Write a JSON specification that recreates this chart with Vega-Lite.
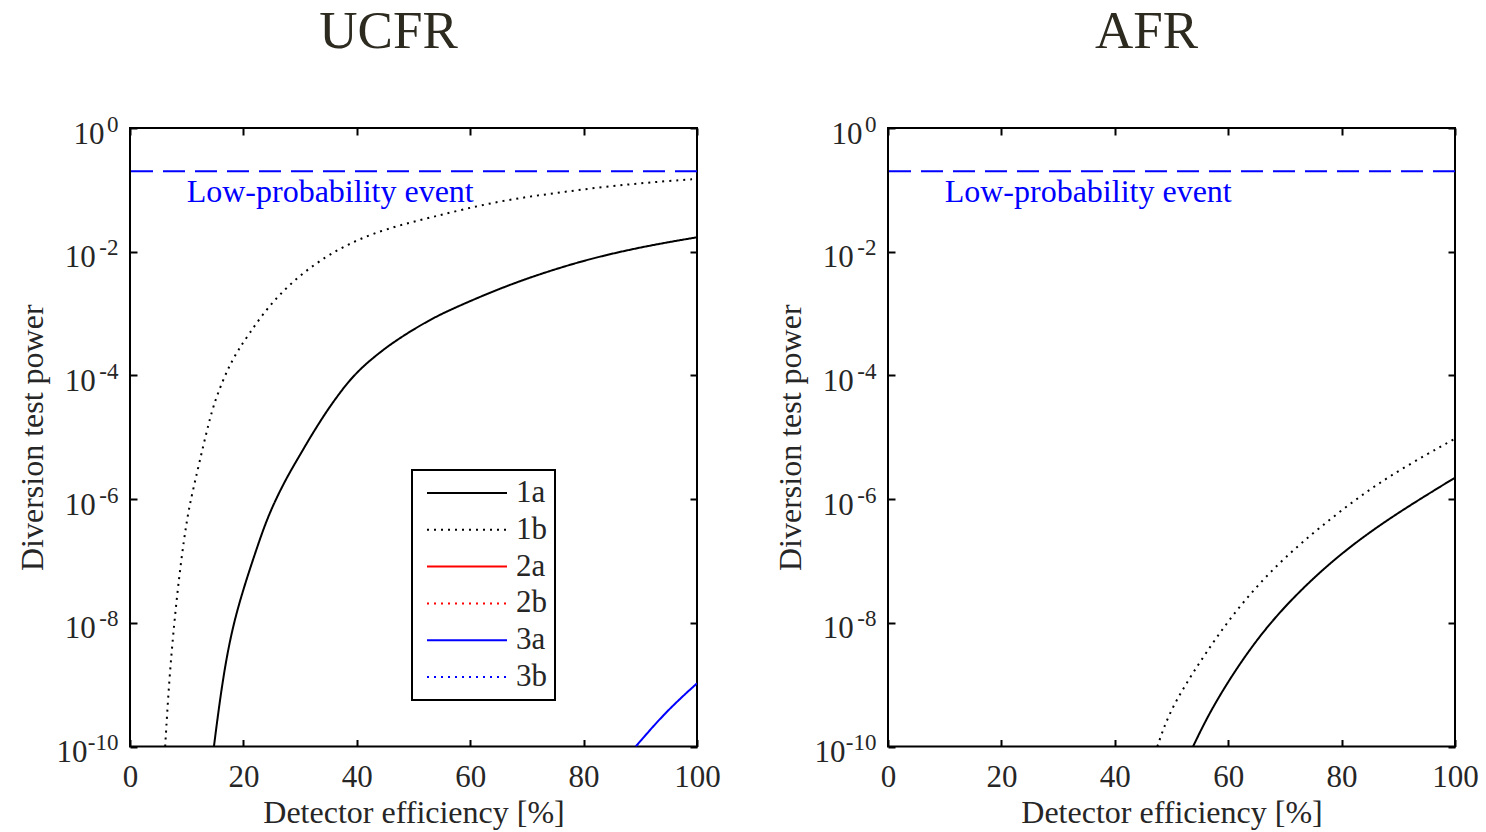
{
  "$schema": "https://vega.github.io/schema/vega-lite/v6.json",
  "autosize": {"type": "pad"},
  "padding": {"left": 15, "top": 5, "right": 30, "bottom": 2},
  "background": "white",
  "bounds": "flush",
  "spacing": 191,
  "config": {
    "font": "Liberation Serif",
    "view": {"stroke": "black", "strokeWidth": 2},
    "axis": {
      "grid": false, "domain": false, "tickColor": "black", "tickWidth": 2, "tickSize": -7,
      "labelFont": "Liberation Serif", "labelFontSize": 31, "labelColor": "#262626",
      "titleFont": "Liberation Serif", "titleFontSize": 32, "titleFontWeight": "normal", "titleColor": "#262626",
      "labelOverlap": false, "labelFlush": false, "labelBound": false
    },
    "legend": {"strokeWidth": 2}
  },
  "datasets": {
    "ucfr": [
      {"eff": 14.8, "power": 1e-10, "series": "1a"},
      {"eff": 16.3, "power": 1.17e-9, "series": "1a"},
      {"eff": 18.0, "power": 8.1e-9, "series": "1a"},
      {"eff": 20.1, "power": 3.8e-8, "series": "1a"},
      {"eff": 22.2, "power": 1.45e-7, "series": "1a"},
      {"eff": 24.4, "power": 5.6e-7, "series": "1a"},
      {"eff": 27.4, "power": 2.04e-6, "series": "1a"},
      {"eff": 29.4, "power": 4.2e-6, "series": "1a"},
      {"eff": 31.5, "power": 9.0e-6, "series": "1a"},
      {"eff": 33.25, "power": 1.64e-5, "series": "1a"},
      {"eff": 35.0, "power": 2.9e-5, "series": "1a"},
      {"eff": 36.8, "power": 4.91e-5, "series": "1a"},
      {"eff": 38.5, "power": 7.85e-5, "series": "1a"},
      {"eff": 40.3, "power": 1.18e-4, "series": "1a"},
      {"eff": 42.1, "power": 1.68e-4, "series": "1a"},
      {"eff": 44.7, "power": 2.61e-4, "series": "1a"},
      {"eff": 47.35, "power": 3.91e-4, "series": "1a"},
      {"eff": 53.2, "power": 8.4e-4, "series": "1a"},
      {"eff": 59.1, "power": 1.47e-3, "series": "1a"},
      {"eff": 65.0, "power": 2.49e-3, "series": "1a"},
      {"eff": 70.9, "power": 3.94e-3, "series": "1a"},
      {"eff": 76.8, "power": 5.87e-3, "series": "1a"},
      {"eff": 82.6, "power": 8.3e-3, "series": "1a"},
      {"eff": 91.1, "power": 1.24e-2, "series": "1a"},
      {"eff": 100, "power": 1.71e-2, "series": "1a"},
      {"eff": 6.2, "power": 1e-10, "series": "1b"},
      {"eff": 6.9, "power": 1.17e-9, "series": "1b"},
      {"eff": 7.8, "power": 1.0e-8, "series": "1b"},
      {"eff": 8.6, "power": 4.9e-8, "series": "1b"},
      {"eff": 9.5, "power": 2.19e-7, "series": "1b"},
      {"eff": 10.3, "power": 6.3e-7, "series": "1b"},
      {"eff": 10.9, "power": 1.15e-6, "series": "1b"},
      {"eff": 12.2, "power": 3.8e-6, "series": "1b"},
      {"eff": 13.9, "power": 1.74e-5, "series": "1b"},
      {"eff": 15.0, "power": 3.9e-5, "series": "1b"},
      {"eff": 16.3, "power": 7.9e-5, "series": "1b"},
      {"eff": 17.5, "power": 1.41e-4, "series": "1b"},
      {"eff": 19.0, "power": 2.51e-4, "series": "1b"},
      {"eff": 21.0, "power": 4.7e-4, "series": "1b"},
      {"eff": 23.5, "power": 1.0e-3, "series": "1b"},
      {"eff": 26.3, "power": 2.0e-3, "series": "1b"},
      {"eff": 30.0, "power": 4.2e-3, "series": "1b"},
      {"eff": 34.5, "power": 8.3e-3, "series": "1b"},
      {"eff": 38.5, "power": 1.32e-2, "series": "1b"},
      {"eff": 42.7, "power": 1.95e-2, "series": "1b"},
      {"eff": 48.0, "power": 2.75e-2, "series": "1b"},
      {"eff": 53.3, "power": 3.63e-2, "series": "1b"},
      {"eff": 59.0, "power": 4.9e-2, "series": "1b"},
      {"eff": 65.1, "power": 6.5e-2, "series": "1b"},
      {"eff": 70.9, "power": 7.9e-2, "series": "1b"},
      {"eff": 76.8, "power": 9.3e-2, "series": "1b"},
      {"eff": 82.7, "power": 0.11, "series": "1b"},
      {"eff": 88.6, "power": 0.124, "series": "1b"},
      {"eff": 94.3, "power": 0.138, "series": "1b"},
      {"eff": 100, "power": 0.150, "series": "1b"},
      {"eff": 89.2, "power": 1e-10, "series": "3a"},
      {"eff": 94.5, "power": 3.66e-10, "series": "3a"},
      {"eff": 100, "power": 1.05e-9, "series": "3a"}
    ],
    "afr": [
      {"eff": 53.8, "power": 1e-10, "series": "1a"},
      {"eff": 56.6, "power": 3.4e-10, "series": "1a"},
      {"eff": 60.7, "power": 1.44e-9, "series": "1a"},
      {"eff": 65.4, "power": 5.96e-9, "series": "1a"},
      {"eff": 70.7, "power": 2.2e-8, "series": "1a"},
      {"eff": 78.4, "power": 1.04e-7, "series": "1a"},
      {"eff": 87.8, "power": 4.6e-7, "series": "1a"},
      {"eff": 100, "power": 2.22e-6, "series": "1a"},
      {"eff": 47.5, "power": 1e-10, "series": "1b"},
      {"eff": 49.4, "power": 3.2e-10, "series": "1b"},
      {"eff": 52.5, "power": 1.02e-9, "series": "1b"},
      {"eff": 56.0, "power": 3.2e-9, "series": "1b"},
      {"eff": 60.1, "power": 1.11e-8, "series": "1b"},
      {"eff": 64.9, "power": 3.8e-8, "series": "1b"},
      {"eff": 70.1, "power": 1.17e-7, "series": "1b"},
      {"eff": 76.0, "power": 3.4e-7, "series": "1b"},
      {"eff": 83.1, "power": 1.1e-6, "series": "1b"},
      {"eff": 90.1, "power": 2.95e-6, "series": "1b"},
      {"eff": 100, "power": 9.5e-6, "series": "1b"}
    ],
    "level": [{"level": 0.2}],
    "note": [{"eff": 10, "power": 0.064, "label": "Low-probability event"}]
  },
  "hconcat": [
    {
      "width": 567, "height": 618.5,
      "title": {"text": "UCFR", "fontSize": 53, "font": "Liberation Serif", "fontWeight": "normal", "color": "#2d2a20", "frame": "group", "anchor": "middle", "dx": -25, "offset": 12, "baseline": "alphabetic"},
      "layer": [
        {
          "data": {"name": "ucfr"},
          "mark": {"type": "line", "strokeWidth": 2, "interpolate": "basis", "clip": true},
          "encoding": {
            "x": {"field": "eff", "type": "quantitative", "scale": {"domain": [0, 100], "nice": false, "zero": false},
                  "axis": {"orient": "bottom", "values": [0, 20, 40, 60, 80, 100], "title": "Detector efficiency [%]", "labelPadding": 23, "titlePadding": 5}},
            "y": {"field": "power", "type": "quantitative", "scale": {"type": "log", "domain": [1e-10, 1], "nice": false},
                  "axis": {"orient": "left", "values": [1e-10, 1e-8, 1e-6, 1e-4, 1e-2, 1], "labelExpr": "'10'",
                           "labelPadding": {"condition": [{"test": "datum.value > 0.5", "value": 33}, {"test": "datum.value < 5e-10", "value": 50}], "value": 41.7},
                           "labelOffset": 6, "title": "Diversion test power", "titlePadding": 6.5}},
            "color": {"field": "series", "type": "nominal",
                      "scale": {"domain": ["1a", "1b", "2a", "2b", "3a", "3b"], "range": ["#000000", "#000000", "#ff0000", "#ff0000", "#0000ff", "#0000ff"]},
                      "legend": {"title": null, "orient": "none", "legendX": 282, "legendY": 342, "symbolType": "stroke", "symbolSize": 6400, "symbolStrokeWidth": 2, "symbolOffset": 6, "labelOffset": 8, "clipHeight": 30, "rowPadding": 5.8, "padding": 8, "strokeColor": "black", "fillColor": "white", "labelFontSize": 31, "labelFont": "Liberation Serif", "labelColor": "#262626"}},
            "strokeDash": {"field": "series", "type": "nominal",
                      "scale": {"domain": ["1a", "1b", "2a", "2b", "3a", "3b"], "range": [[1, 0], [2, 5], [1, 0], [2, 5], [1, 0], [2, 5]]},
                      "legend": {"title": null, "orient": "none", "legendX": 282, "legendY": 342, "symbolType": "stroke", "symbolSize": 6400, "symbolStrokeWidth": 2, "symbolOffset": 6, "labelOffset": 8, "clipHeight": 30, "rowPadding": 5.8, "padding": 8, "strokeColor": "black", "fillColor": "white", "labelFontSize": 31, "labelFont": "Liberation Serif", "labelColor": "#262626"}}
          }
        },
        {
          "data": {"name": "level"},
          "mark": {"type": "rule", "color": "#0000ff", "strokeWidth": 2, "strokeDash": [22, 10]},
          "encoding": {
            "y": {"field": "level", "type": "quantitative", "scale": {"type": "log", "domain": [1e-10, 1], "nice": false},
                  "axis": {"orient": "left", "values": [1e-10, 1e-8, 1e-6, 1e-4, 1e-2, 1], "labelExpr": "datum.value > 0.5 ? '0' : '-' + round(-log(datum.value)/LN10)", "labelFontSize": 23, "labelPadding": 12, "labelOffset": -4, "ticks": false, "title": null}}
          }
        },
        {
          "data": {"name": "note"},
          "mark": {"type": "text", "align": "left", "baseline": "alphabetic", "fontSize": 32, "color": "#0000ff", "font": "Liberation Serif"},
          "encoding": {
            "x": {"field": "eff", "type": "quantitative", "scale": {"domain": [0, 100], "nice": false, "zero": false},
                  "axis": {"orient": "top", "values": [0, 20, 40, 60, 80, 100], "labels": false, "title": null}},
            "y": {"field": "power", "type": "quantitative", "scale": {"type": "log", "domain": [1e-10, 1], "nice": false},
                  "axis": {"orient": "right", "values": [1e-10, 1e-8, 1e-6, 1e-4, 1e-2, 1], "labels": false, "title": null}},
            "text": {"field": "label"}
          }
        }
      ],
      "resolve": {"axis": {"x": "independent", "y": "independent"}}
    },
    {
      "width": 567, "height": 618.5,
      "title": {"text": "AFR", "fontSize": 53, "font": "Liberation Serif", "fontWeight": "normal", "color": "#2d2a20", "frame": "group", "anchor": "middle", "dx": -25, "offset": 12, "baseline": "alphabetic"},
      "layer": [
        {
          "data": {"name": "afr"},
          "mark": {"type": "line", "strokeWidth": 2, "interpolate": "basis", "clip": true},
          "encoding": {
            "x": {"field": "eff", "type": "quantitative", "scale": {"domain": [0, 100], "nice": false, "zero": false},
                  "axis": {"orient": "bottom", "values": [0, 20, 40, 60, 80, 100], "title": "Detector efficiency [%]", "labelPadding": 23, "titlePadding": 5}},
            "y": {"field": "power", "type": "quantitative", "scale": {"type": "log", "domain": [1e-10, 1], "nice": false},
                  "axis": {"orient": "left", "values": [1e-10, 1e-8, 1e-6, 1e-4, 1e-2, 1], "labelExpr": "'10'",
                           "labelPadding": {"condition": [{"test": "datum.value > 0.5", "value": 33}, {"test": "datum.value < 5e-10", "value": 50}], "value": 41.7},
                           "labelOffset": 6, "title": "Diversion test power", "titlePadding": 6.5}},
            "color": {"field": "series", "type": "nominal",
                      "scale": {"domain": ["1a", "1b", "2a", "2b", "3a", "3b"], "range": ["#000000", "#000000", "#ff0000", "#ff0000", "#0000ff", "#0000ff"]},
                      "legend": {"title": null, "orient": "none", "legendX": 16, "legendY": 342, "symbolType": "stroke", "symbolSize": 6400, "symbolStrokeWidth": 2, "symbolOffset": 6, "labelOffset": 8, "clipHeight": 30, "rowPadding": 5.8, "padding": 8, "strokeColor": "black", "fillColor": "white", "labelFontSize": 31, "labelFont": "Liberation Serif", "labelColor": "#262626"}},
            "strokeDash": {"field": "series", "type": "nominal",
                      "scale": {"domain": ["1a", "1b", "2a", "2b", "3a", "3b"], "range": [[1, 0], [2, 5], [1, 0], [2, 5], [1, 0], [2, 5]]},
                      "legend": {"title": null, "orient": "none", "legendX": 16, "legendY": 342, "symbolType": "stroke", "symbolSize": 6400, "symbolStrokeWidth": 2, "symbolOffset": 6, "labelOffset": 8, "clipHeight": 30, "rowPadding": 5.8, "padding": 8, "strokeColor": "black", "fillColor": "white", "labelFontSize": 31, "labelFont": "Liberation Serif", "labelColor": "#262626"}}
          }
        },
        {
          "data": {"name": "level"},
          "mark": {"type": "rule", "color": "#0000ff", "strokeWidth": 2, "strokeDash": [22, 10]},
          "encoding": {
            "y": {"field": "level", "type": "quantitative", "scale": {"type": "log", "domain": [1e-10, 1], "nice": false},
                  "axis": {"orient": "left", "values": [1e-10, 1e-8, 1e-6, 1e-4, 1e-2, 1], "labelExpr": "datum.value > 0.5 ? '0' : '-' + round(-log(datum.value)/LN10)", "labelFontSize": 23, "labelPadding": 12, "labelOffset": -4, "ticks": false, "title": null}}
          }
        },
        {
          "data": {"name": "note"},
          "mark": {"type": "text", "align": "left", "baseline": "alphabetic", "fontSize": 32, "color": "#0000ff", "font": "Liberation Serif"},
          "encoding": {
            "x": {"field": "eff", "type": "quantitative", "scale": {"domain": [0, 100], "nice": false, "zero": false},
                  "axis": {"orient": "top", "values": [0, 20, 40, 60, 80, 100], "labels": false, "title": null}},
            "y": {"field": "power", "type": "quantitative", "scale": {"type": "log", "domain": [1e-10, 1], "nice": false},
                  "axis": {"orient": "right", "values": [1e-10, 1e-8, 1e-6, 1e-4, 1e-2, 1], "labels": false, "title": null}},
            "text": {"field": "label"}
          }
        }
      ],
      "resolve": {"axis": {"x": "independent", "y": "independent"}}
    }
  ]
}
